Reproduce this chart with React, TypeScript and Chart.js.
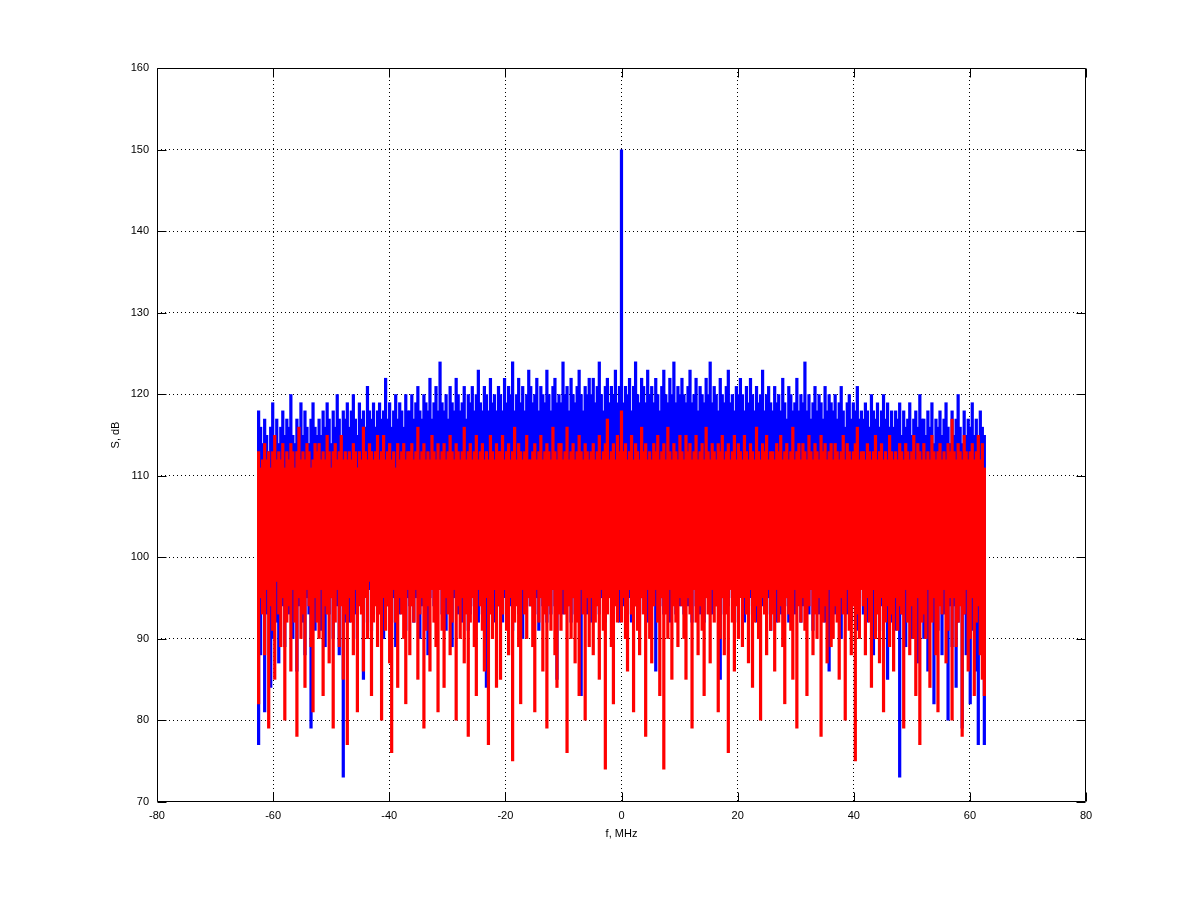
import { useEffect, useRef } from "react";
import { Chart, registerables } from "chart.js";

Chart.register(...registerables);

// Frequency bin grid (MHz)
const FREQ_START = -62.5;
const FREQ_STEP = 0.3472;

// X / Y axis ticks
const X_TICKS = [-80, -60, -40, -20, 0, 20, 40, 60, 80];
const Y_TICKS = [70, 80, 90, 100, 110, 120, 130, 140, 150, 160];

// Blue series: per-bin max and min (dB)
const BLUE_HI = [
  118, 116, 114, 117, 115, 113, 116, 119, 115, 117, 114, 116, 118, 115, 117,
  116, 120, 115, 114, 117, 116, 119, 115, 118, 116, 114, 117, 119, 116, 115,
  117, 115, 118, 116, 119, 117, 114, 118, 116, 120, 117, 115, 118, 117, 119,
  116, 118, 120, 117, 115, 119, 117, 118, 116, 121, 118, 117, 119, 116, 118,
  119, 117, 118, 122, 117, 119, 116, 118, 120, 117, 119, 118, 116, 120, 118,
  118, 120, 117, 119, 121, 118, 117, 120, 119, 118, 122, 117, 119, 121, 118,
  124, 119, 118, 120, 117, 121, 119, 118, 122, 120, 118, 119, 121, 117, 120,
  119, 121, 118, 120, 123, 119, 118, 121, 120, 118, 122, 119, 120, 118, 121,
  120, 118, 122, 119, 121, 120, 124, 118, 120, 122, 119, 121, 118, 120, 123,
  121, 119, 120, 122, 118, 121, 120, 119, 123, 120, 118, 121, 122, 119, 120,
  119, 124, 120, 121, 118, 122, 120, 119, 121, 123, 120, 118, 121, 120, 122,
  120, 122, 119, 121, 124, 120, 118, 121, 122, 119, 121, 120, 123, 119, 121,
  150, 119, 121, 120, 122, 118, 121, 124, 120, 119, 122, 121, 119, 123, 120,
  121, 119, 122, 120, 118, 121, 123, 120, 119, 122, 120, 124, 119, 121, 120,
  122, 120, 119, 121, 123, 119, 120, 122, 118, 121, 120, 119, 122, 120, 124,
  119, 121, 120, 118, 122, 120, 119, 121, 123, 119, 120, 118, 121, 120, 122,
  120, 118, 121, 119, 122, 120, 118, 121, 119, 120, 123, 118, 120, 121, 119,
  118, 121, 119, 120, 118, 122, 119, 117, 121, 120, 118, 119, 122, 118, 120,
  119, 124, 118, 120, 117, 119, 121, 118, 120, 119, 117, 121, 118, 120, 119,
  118, 120, 117, 119, 121, 118, 116, 119, 120, 117, 119, 118, 121, 117, 118,
  117, 119, 118, 116, 120, 118, 117, 119, 116, 118, 120, 117, 119, 116, 118,
  116, 118, 117, 119, 115, 118, 116, 117, 119, 115, 117, 118, 116, 120, 117,
  117, 115, 118, 116, 119, 114, 117, 116, 118, 115, 117, 119, 116, 114, 118,
  115, 117, 120, 116, 114, 118, 115, 117, 116, 119, 115, 117, 114, 118, 116,
  115,
];
const BLUE_LO = [
  77, 88, 95, 81, 93, 97, 84, 90, 96, 92, 87, 95, 94, 89, 96,
  93, 96, 90, 95, 86, 94, 97, 92, 88, 95, 93, 79, 96, 91, 94,
  96, 91, 94, 89, 97, 93, 95, 90, 96, 94, 88, 95, 73, 92, 96,
  92, 95, 97, 93, 90, 96, 94, 85, 95, 92, 96, 91, 94, 97, 93,
  95, 93, 90, 96, 94, 97, 92, 95, 89, 96, 93, 94, 97, 91, 95,
  94, 96, 92, 95, 97, 90, 94, 96, 93, 88, 95, 97, 94, 92, 96,
  97, 93, 95, 91, 94, 96, 89, 95, 97, 93, 94, 92, 96, 95, 91,
  93, 96, 94, 97, 92, 95, 93, 96, 84, 94, 97, 95, 92, 96, 94,
  96, 92, 95, 93, 97, 94, 91, 96, 95, 93, 97, 90, 95, 94, 96,
  94, 97, 93, 95, 91, 96, 94, 97, 92, 95, 93, 96, 94, 85, 97,
  95, 93, 96, 94, 97, 92, 95, 93, 96, 94, 83, 97, 95, 93, 96,
  92, 96, 94, 97, 93, 95, 96, 92, 94, 97, 95, 93, 96, 94, 92,
  96, 94, 97, 93, 95, 92, 96, 94, 97, 93, 95, 96, 94, 92, 97,
  94, 97, 86, 96, 94, 95, 93, 97, 94, 92, 96, 95, 93, 97, 94,
  97, 93, 95, 94, 96, 92, 97, 94, 95, 93, 96, 92, 97, 95, 93,
  93, 96, 94, 97, 85, 95, 93, 96, 94, 97, 95, 93, 96, 92, 95,
  95, 92, 97, 94, 95, 93, 96, 92, 95, 97, 94, 96, 93, 95, 91,
  96, 94, 92, 96, 93, 97, 94, 95, 92, 96, 94, 93, 97, 95, 92,
  94, 97, 95, 93, 96, 91, 95, 97, 93, 94, 96, 92, 95, 86, 94,
  97, 93, 96, 94, 90, 95, 97, 93, 95, 92, 96, 94, 91, 95, 97,
  93, 95, 92, 96, 94, 88, 95, 97, 91, 94, 96, 93, 85, 95, 92,
  95, 91, 96, 73, 93, 95, 89, 94, 96, 90, 95, 92, 87, 96, 94,
  90, 95, 86, 93, 96, 82, 94, 91, 95, 88, 93, 96, 80, 94, 89,
  94, 84, 92, 96, 79, 93, 88, 95, 82, 91, 94, 86, 77, 93, 90,
  77,
];

// Red series: per-bin max and min (dB)
const RED_HI = [
  113, 111, 112, 114, 112, 113, 111, 113, 115, 112, 113, 112, 114, 111, 113,
  112, 114, 113, 111, 113, 116, 112, 113, 112, 114, 113, 111, 112, 114, 113,
  114, 112, 113, 112, 115, 113, 111, 113, 114, 112, 113, 115, 112, 113, 112,
  113, 112, 114, 113, 111, 113, 112, 116, 113, 112, 114, 113, 112, 113, 115,
  112, 113, 115, 112, 113, 114, 112, 113, 111, 114, 112, 113, 114, 112, 113,
  113, 114, 112, 113, 116, 112, 113, 114, 112, 113, 112, 115, 113, 112, 114,
  112, 113, 114, 112, 113, 115, 113, 112, 114, 113, 112, 113, 116, 112, 113,
  114, 112, 113, 115, 112, 113, 114, 112, 113, 112, 115, 113, 112, 114, 113,
  113, 115, 112, 113, 114, 112, 113, 116, 112, 114, 113, 112, 113, 115, 112,
  112, 113, 114, 112, 113, 115, 112, 113, 114, 113, 112, 116, 113, 112, 114,
  114, 112, 113, 116, 112, 113, 114, 112, 113, 115, 113, 112, 114, 113, 112,
  113, 114, 112, 113, 115, 112, 113, 114, 117, 112, 113, 114, 112, 115, 113,
  118, 113, 114, 112, 113, 115, 112, 114, 113, 112, 116, 113, 114, 112, 113,
  112, 114, 113, 115, 112, 113, 114, 112, 116, 113, 112, 114, 113, 112, 115,
  113, 112, 115, 113, 114, 112, 113, 115, 112, 113, 114, 112, 116, 113, 112,
  114, 113, 112, 114, 113, 115, 112, 113, 114, 112, 113, 115, 112, 114, 113,
  112, 115, 113, 112, 114, 113, 112, 116, 113, 112, 114, 113, 115, 112, 113,
  113, 112, 114, 113, 115, 112, 113, 114, 112, 113, 116, 112, 113, 114, 112,
  114, 113, 112, 115, 113, 112, 114, 113, 112, 115, 113, 114, 112, 113, 114,
  112, 114, 113, 112, 113, 115, 112, 114, 113, 112, 113, 114, 116, 112, 113,
  113, 112, 114, 113, 112, 113, 115, 112, 113, 114, 112, 113, 112, 115, 113,
  112, 113, 112, 114, 113, 112, 114, 113, 112, 113, 115, 112, 114, 113, 112,
  114, 112, 113, 112, 115, 113, 112, 113, 114, 112, 113, 112, 114, 113, 117,
  113, 112, 114, 113, 112, 115, 113, 112, 113, 114, 112, 113, 115, 112, 114,
  111,
];
const RED_LO = [
  82, 95, 93, 88, 96, 79, 94, 91, 85, 97, 93, 89, 95, 80, 92,
  94, 86, 96, 92, 78, 95, 90, 93, 84, 96, 94, 89, 81, 95, 92,
  90, 96, 83, 94, 93, 87, 95, 79, 92, 96, 89, 94, 85, 93, 77,
  95, 92, 88, 96, 81, 94, 93, 86, 95, 90, 97, 83, 92, 94, 89,
  93, 80, 95, 91, 94, 87, 76, 96, 92, 84, 95, 93, 90, 82, 96,
  88, 94, 92, 96, 85, 93, 95, 79, 91, 94, 86, 96, 92, 89, 81,
  96, 91, 84, 95, 93, 88, 92, 96, 80, 94, 90, 95, 87, 93, 78,
  92, 95, 89, 83, 96, 94, 91, 86, 95, 77, 93, 90, 96, 84, 94,
  85, 93, 96, 91, 88, 95, 75, 92, 94, 89, 82, 96, 93, 90, 95,
  94, 89, 81, 96, 92, 95, 86, 93, 79, 94, 91, 96, 88, 84, 93,
  91, 96, 93, 76, 94, 90, 95, 87, 92, 83, 96, 93, 80, 95, 89,
  95, 88, 92, 94, 85, 96, 91, 74, 93, 95, 89, 82, 94, 92, 96,
  92, 95, 90, 86, 96, 93, 81, 94, 91, 88, 95, 93, 78, 96, 90,
  87, 94, 96, 92, 83, 95, 74, 93, 90, 96, 85, 94, 92, 89, 95,
  94, 90, 85, 95, 93, 79, 96, 92, 88, 94, 91, 83, 95, 93, 87,
  96, 92, 94, 81, 90, 95, 88, 93, 76, 96, 92, 86, 94, 90, 95,
  89, 95, 93, 87, 96, 84, 92, 94, 90, 80, 95, 93, 88, 96, 91,
  93, 86, 96, 92, 94, 89, 82, 95, 93, 91, 85, 96, 79, 94, 92,
  95, 91, 83, 94, 96, 88, 93, 90, 95, 78, 92, 94, 87, 96, 89,
  90, 94, 92, 85, 95, 93, 80, 96, 91, 88, 94, 75, 93, 90, 96,
  94, 88, 95, 92, 84, 96, 90, 93, 87, 95, 81, 92, 94, 89, 93,
  86, 95, 91, 94, 93, 79, 96, 92, 88, 94, 90, 83, 95, 77, 92,
  93, 90, 96, 84, 92, 95, 88, 81, 94, 93, 96, 87, 91, 95, 80,
  95, 89, 92, 94, 78, 93, 96, 86, 90, 95, 83, 92, 94, 88, 85,
  83,
];

const FREQS = BLUE_HI.map((_, i) => +(FREQ_START + i * FREQ_STEP).toFixed(3));

const FONT = { family: "'Liberation Sans', Arial, sans-serif", size: 11 };

const framePlugin = {
  id: "frame",
  afterDatasetsDraw(chart: any) {
    const { ctx, chartArea: a, scales } = chart;
    const x = scales.x;
    const y = scales.y;
    const L = Math.round(a.left) + 0.5;
    const R = Math.round(a.right) - 0.5;
    const T = Math.round(a.top) + 0.5;
    const B = Math.round(a.bottom) - 0.5;
    const TL = 9;
    ctx.save();
    ctx.strokeStyle = "#000";
    ctx.lineWidth = 1;
    ctx.setLineDash([]);
    ctx.beginPath();
    ctx.rect(L, T, R - L, B - T);
    X_TICKS.forEach((v) => {
      const p = Math.round(x.getPixelForValue(v)) + 0.5;
      ctx.moveTo(p, B);
      ctx.lineTo(p, B - TL);
      ctx.moveTo(p, T);
      ctx.lineTo(p, T + TL);
    });
    Y_TICKS.forEach((v) => {
      const p = Math.round(y.getPixelForValue(v)) + 0.5;
      ctx.moveTo(L, p);
      ctx.lineTo(L + TL, p);
      ctx.moveTo(R, p);
      ctx.lineTo(R - TL, p);
    });
    ctx.stroke();
    ctx.restore();
  },
};

export default function App() {
  const ref = useRef<HTMLCanvasElement | null>(null);

  useEffect(() => {
    document.body.style.margin = "0";
    const canvas = ref.current;
    if (!canvas) return;
    const chart = new Chart(canvas, {
      type: "bar",
      data: {
        datasets: [
          {
            label: "red",
            data: FREQS.map((f, i) => ({ x: f, y: [RED_LO[i], RED_HI[i]] })) as any,
            backgroundColor: "#ff0000",
            borderWidth: 0,
            grouped: false,
            order: 1,
            barPercentage: 1.6,
            categoryPercentage: 1,
          } as any,
          {
            label: "blue",
            data: FREQS.map((f, i) => ({ x: f, y: [BLUE_LO[i], BLUE_HI[i]] })) as any,
            backgroundColor: "#0000ff",
            borderWidth: 0,
            grouped: false,
            order: 2,
            barPercentage: 1.6,
            categoryPercentage: 1,
          } as any,
        ],
      },
      options: {
        animation: false,
        responsive: false,
        devicePixelRatio: 1,
        layout: { padding: { top: 68, right: 114, left: 105, bottom: 58 } },
        plugins: { legend: { display: false }, tooltip: { enabled: false } },
        scales: {
          x: {
            type: "linear",
            min: -80,
            max: 80,
            offset: false,
            afterFit: (s: any) => {
              s.height = 41;
            },
            afterBuildTicks: (s: any) => {
              s.ticks = X_TICKS.map((v) => ({ value: v }));
            },
            ticks: { color: "#000", font: FONT, padding: 7, maxRotation: 0, autoSkip: false },
            grid: {
              offset: false,
              drawTicks: false,
              lineWidth: 1,
              color: (c: any) =>
                c.tick && (c.tick.value === -80 || c.tick.value === 80) ? "rgba(0,0,0,0)" : "#000",
            },
            border: { display: false, dash: [1, 3] },
            title: { display: true, text: "f, MHz", color: "#000", font: FONT, padding: { top: 0, bottom: 2 } },
          },
          y: {
            type: "linear",
            min: 70,
            max: 160,
            afterFit: (s: any) => {
              s.width = 52;
            },
            afterBuildTicks: (s: any) => {
              s.ticks = Y_TICKS.map((v) => ({ value: v }));
            },
            ticks: { color: "#000", font: FONT, padding: 8, autoSkip: false },
            grid: {
              drawTicks: false,
              lineWidth: 1,
              color: (c: any) =>
                c.tick && (c.tick.value === 70 || c.tick.value === 160) ? "rgba(0,0,0,0)" : "#000",
            },
            border: { display: false, dash: [1, 3] },
            title: { display: true, text: "S, dB", color: "#000", font: FONT, padding: { top: 4, bottom: 0 } },
          },
        },
      },
      plugins: [framePlugin],
    });
    return () => chart.destroy();
  }, []);

  return (
    <div style={{ width: 1200, height: 901, background: "#fff" }}>
      <canvas ref={ref} width={1200} height={901} style={{ display: "block" }} />
    </div>
  );
}
